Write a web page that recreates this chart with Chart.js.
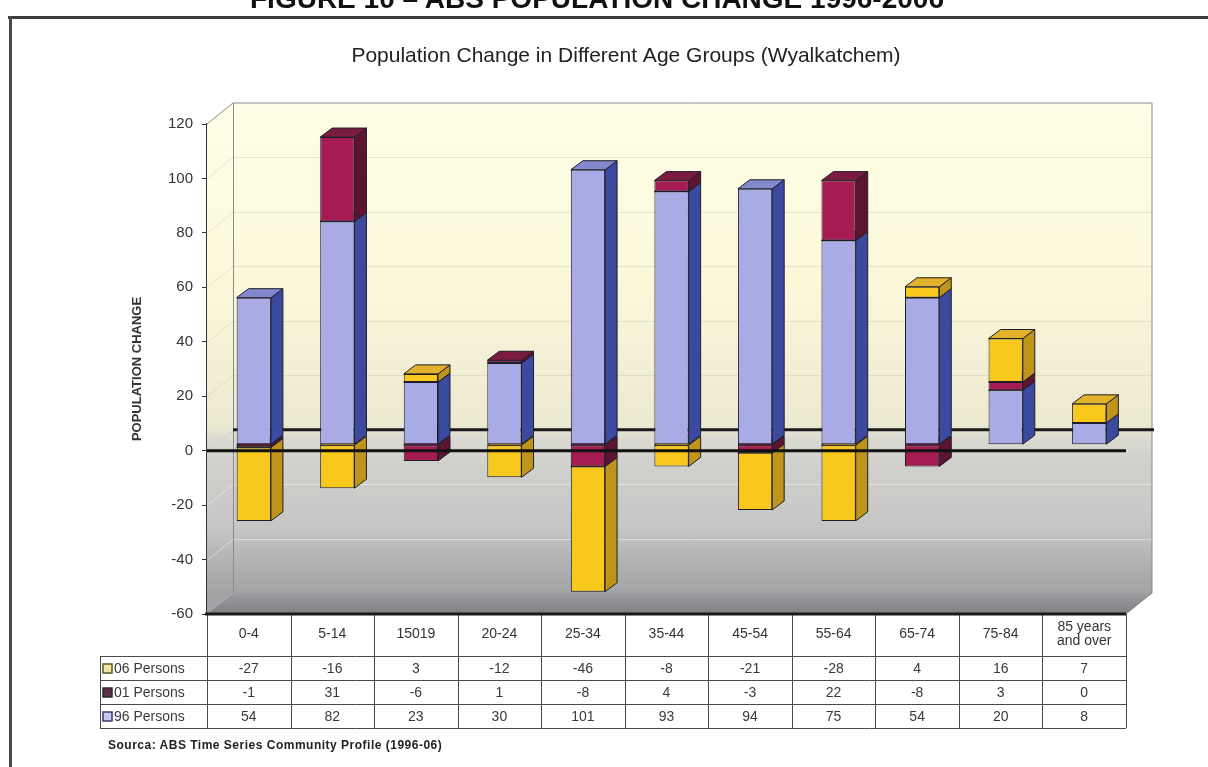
<!DOCTYPE html>
<html>
<head>
<meta charset="utf-8">
<script src="https://cdn.jsdelivr.net/npm/chart.js@4"></script>
<style>
html,body{margin:0;padding:0;background:#fff;width:1208px;height:767px;overflow:hidden;font-family:"Liberation Sans",Arial,sans-serif;}
#wrap{position:relative;width:1208px;height:767px;}
canvas{position:absolute;left:0;top:0;}
#fig{position:absolute;left:0;width:1194px;top:-15px;text-align:center;font:bold 28px/28px "Liberation Sans",Arial,sans-serif;color:#111;white-space:nowrap;}
#hline{position:absolute;left:8px;top:16px;width:1200px;height:3px;background:#3c3c3c;}
#vline{position:absolute;left:9px;top:16px;width:3px;height:751px;background:#4a4a4a;}
#src{position:absolute;left:108px;top:738px;font:bold 12px/14px "Liberation Sans",Arial,sans-serif;color:#222;letter-spacing:0.5px;white-space:nowrap;}
</style>
</head>
<body>
<div id="wrap">
<canvas id="c" width="1208" height="767"></canvas>
<div id="fig">FIGURE 10 – ABS POPULATION CHANGE 1996-2006</div>
<div id="hline"></div>
<div id="vline"></div>
<div id="src">Sourca: ABS Time Series Community Profile (1996-06)</div>
</div>
<script>
// ---- data ----
const categories = ['0-4','5-14','15019','20-24','25-34','35-44','45-54','55-64','65-74','75-84',['85 years','and over']];
const persons96 = [54, 82, 23, 30, 101, 93, 94, 75, 54, 20, 8];
const persons01 = [-1, 31, -6, 1, -8, 4, -3, 22, -8, 3, 0];
const persons06 = [-27, -16, 3, -12, -46, -8, -21, -28, 4, 16, 7];
const seriesLabels = ['96 Persons', '01 Persons', '06 Persons'];
const yMin = -60, yMax = 120, yStep = 20;
const chartTitle = 'Population Change in Different Age Groups (Wyalkatchem)';
const yTitle = 'POPULATION CHANGE';

// ---- styling ----
const FAMILY = '"Liberation Sans", Arial, sans-serif';
Chart.defaults.font.family = FAMILY;
const DX = 26, DY = -21;      // wall depth
const BDX = 12, BDY = -9;     // bar depth
const SHX = 5, SHY = -6;      // bar projection shift

const threeD = {
  id: 'threeD',
  beforeDatasetsDraw(chart) {
    const {ctx, chartArea: a, scales: {y}} = chart;
    const y0 = y.getPixelForValue(0);
    ctx.save();
    const f0 = (y0 - a.top) / (a.bottom - a.top);
    const g = ctx.createLinearGradient(0, a.top + DY, 0, a.bottom + DY);
    g.addColorStop(0, '#FFFEE6');
    g.addColorStop(f0 - 0.3, '#FBF8DA');
    g.addColorStop(f0 - 0.01, '#ECE9D1');
    g.addColorStop(f0 + 0.02, '#DAD9D1');
    g.addColorStop(f0 + 0.07, '#D0D0CD');
    g.addColorStop(f0 + 0.2, '#C6C6C5');
    g.addColorStop(0.94, '#B0B1B2');
    g.addColorStop(1, '#A2A3A5');
    // left wall
    ctx.beginPath();
    ctx.moveTo(a.left, a.top); ctx.lineTo(a.left + DX, a.top + DY);
    ctx.lineTo(a.left + DX, a.bottom + DY); ctx.lineTo(a.left, a.bottom); ctx.closePath();
    ctx.fillStyle = g; ctx.fill();
    // back wall
    ctx.fillStyle = g;
    ctx.fillRect(a.left + DX, a.top + DY, a.right - a.left, a.bottom - a.top);
    // back wall grid
    for (let v = yMin + yStep; v < yMax; v += yStep) {
      const yy = Math.round(y.getPixelForValue(v) + DY) + 0.5;
      ctx.strokeStyle = v >= 0 ? 'rgba(190,188,170,0.35)' : 'rgba(255,255,255,0.45)';
      ctx.lineWidth = 1;
      ctx.beginPath(); ctx.moveTo(a.left + DX, yy); ctx.lineTo(a.right + DX, yy); ctx.stroke();
      ctx.beginPath(); ctx.moveTo(a.left, yy - DY); ctx.lineTo(a.left + DX, yy); ctx.stroke();
    }
    // floor
    const fg = ctx.createLinearGradient(0, a.bottom + DY, 0, a.bottom);
    fg.addColorStop(0, '#9C9EA0'); fg.addColorStop(1, '#7D7F82');
    ctx.beginPath();
    ctx.moveTo(a.left, a.bottom); ctx.lineTo(a.left + DX, a.bottom + DY);
    ctx.lineTo(a.right + DX, a.bottom + DY); ctx.lineTo(a.right, a.bottom); ctx.closePath();
    ctx.fillStyle = fg; ctx.fill();
    // wall outlines
    ctx.strokeStyle = '#8a8a8a'; ctx.lineWidth = 1;
    ctx.beginPath();
    ctx.moveTo(a.left, a.top); ctx.lineTo(a.left + DX, a.top + DY);
    ctx.lineTo(a.right + DX, a.top + DY); ctx.lineTo(a.right + DX, a.bottom + DY);
    ctx.lineTo(a.right, a.bottom);
    ctx.moveTo(a.left + DX + 0.5, a.top + DY); ctx.lineTo(a.left + DX + 0.5, a.bottom + DY);
    ctx.stroke();
    // back zero line
    ctx.strokeStyle = '#1a1a1a'; ctx.lineWidth = 3;
    ctx.beginPath(); ctx.moveTo(a.left + DX, y0 + DY); ctx.lineTo(a.right + DX + 2, y0 + DY); ctx.stroke();
    ctx.restore();

    // 3D faces of bars
    ctx.save();
    ctx.translate(SHX, SHY);
    const faces = [];
    chart.data.datasets.forEach((ds, i) => {
      const meta = chart.getDatasetMeta(i);
      meta.data.forEach(el => {
        const p = el.getProps(['x', 'y', 'base', 'width'], true);
        if (Math.abs(p.base - p.y) < 0.5) return;
        faces.push({l: p.x - p.width / 2, r: p.x + p.width / 2,
          t: Math.min(p.y, p.base), b: Math.max(p.y, p.base), ds});
      });
    });
    faces.sort((p, q) => q.t - p.t);
    ctx.lineWidth = 1; ctx.strokeStyle = '#1e1e2a'; ctx.lineJoin = 'round';
    faces.forEach(f => {
      ctx.beginPath();
      ctx.moveTo(f.r, f.t); ctx.lineTo(f.r + BDX, f.t + BDY);
      ctx.lineTo(f.r + BDX, f.b + BDY); ctx.lineTo(f.r, f.b); ctx.closePath();
      ctx.fillStyle = f.ds.sideColor; ctx.fill(); ctx.stroke();
      ctx.beginPath();
      ctx.moveTo(f.l, f.t); ctx.lineTo(f.l + BDX, f.t + BDY);
      ctx.lineTo(f.r + BDX, f.t + BDY); ctx.lineTo(f.r, f.t); ctx.closePath();
      ctx.fillStyle = f.ds.topColor; ctx.fill(); ctx.stroke();
    });
  },
  afterDatasetsDraw(chart) {
    const {ctx, chartArea: a, scales: {y}} = chart;
    ctx.restore();
    const y0 = y.getPixelForValue(0);
    ctx.save();
    ctx.strokeStyle = '#111'; ctx.lineWidth = 3;
    ctx.beginPath(); ctx.moveTo(a.left, y0); ctx.lineTo(a.right, y0); ctx.stroke();
    ctx.restore();
  }
};

const dataTable = {
  id: 'dataTable',
  afterDraw(chart) {
    const {ctx, chartArea: a, scales: {x}} = chart;
    const n = categories.length;
    const colW = (a.right - a.left) / n;
    const hdrB = a.bottom + 42, rowH = 24, labL = 100;
    const rows = chart.data.datasets.slice().reverse();
    const tblB = hdrB + rows.length * rowH;
    ctx.save();
    ctx.strokeStyle = '#4a4a4a'; ctx.lineWidth = 1;
    ctx.beginPath();
    for (let i = 0; i <= n; i++) {
      const xx = Math.round(a.left + i * colW) + 0.5;
      ctx.moveTo(xx, a.bottom); ctx.lineTo(xx, tblB);
    }
    ctx.moveTo(labL + 0.5, hdrB); ctx.lineTo(labL + 0.5, tblB);
    for (let k = 0; k <= rows.length; k++) {
      const yy = hdrB + k * rowH + 0.5;
      ctx.moveTo(labL, yy); ctx.lineTo(a.right, yy);
    }
    ctx.stroke();
    ctx.strokeStyle = '#1a1a1a'; ctx.lineWidth = 3;
    ctx.beginPath(); ctx.moveTo(a.left - 2, a.bottom); ctx.lineTo(a.right, a.bottom); ctx.stroke();
    ctx.font = '14px ' + FAMILY;
    ctx.textBaseline = 'middle';
    rows.forEach((ds, k) => {
      const cy = hdrB + k * rowH + rowH / 2 + 1;
      ctx.fillStyle = ds.swatchFill; ctx.strokeStyle = ds.swatchStroke; ctx.lineWidth = 1.5;
      ctx.fillRect(103, cy - 5, 9, 9); ctx.strokeRect(103, cy - 5, 9, 9);
      ctx.fillStyle = '#3a3a3a'; ctx.textAlign = 'left';
      ctx.fillText(ds.label, 114, cy);
      ctx.textAlign = 'center';
      ds.data.forEach((v, i) => ctx.fillText(String(v), x.getPixelForValue(i), cy));
    });
    ctx.restore();
  }
};

new Chart(document.getElementById('c'), {
  type: 'bar',
  data: {
    labels: categories,
    datasets: [
      {label: seriesLabels[0], data: persons96, backgroundColor: '#A9ABE6', sideColor: '#3B4A9E', topColor: '#8488CC',
       swatchFill: '#C9C9F0', swatchStroke: '#3a3a6a'},
      {label: seriesLabels[1], data: persons01, backgroundColor: '#A61C52', sideColor: '#5C1430', topColor: '#7A1C40',
       swatchFill: '#5a3048', swatchStroke: '#2a2a2a'},
      {label: seriesLabels[2], data: persons06, backgroundColor: '#F8C81C', sideColor: '#BE951A', topColor: '#E2B22A',
       swatchFill: '#EFE6A8', swatchStroke: '#5a5a20'}
    ]
  },
  options: {
    responsive: false,
    animation: false,
    devicePixelRatio: 1,
    layout: {padding: {top: 29, left: 126, right: 82, bottom: 0}},
    datasets: {bar: {barPercentage: 0.41, categoryPercentage: 1, borderWidth: 1, borderColor: '#1e1e2a', borderSkipped: false}},
    plugins: {
      legend: {display: false},
      tooltip: {enabled: false},
      title: {display: true, text: chartTitle, color: '#222',
        font: {size: 21, weight: 'normal', lineHeight: 1.2}, padding: {top: 15, bottom: 54.8}}
    },
    scales: {
      x: {
        stacked: true,
        ticks: {color: '#333', font: {size: 14, lineHeight: 1}, padding: 13, crossAlign: 'center', maxRotation: 0, autoSkip: false},
        grid: {display: false, drawTicks: false},
        border: {display: false},
        afterFit(s) { s.height = 153; }
      },
      y: {
        stacked: true,
        min: yMin, max: yMax,
        ticks: {stepSize: yStep, color: '#333', font: {size: 15}, padding: 9},
        grid: {drawOnChartArea: false, drawTicks: true, tickLength: 5, color: '#333'},
        border: {display: true, color: '#333', width: 1.5},
        title: {display: true, text: yTitle, color: '#333', font: {size: 13, weight: 'bold'}, padding: {top: 4, bottom: 0}},
        afterFit(s) { s.width = 81; }
      }
    }
  },
  plugins: [threeD, dataTable]
});
</script>
</body>
</html>
